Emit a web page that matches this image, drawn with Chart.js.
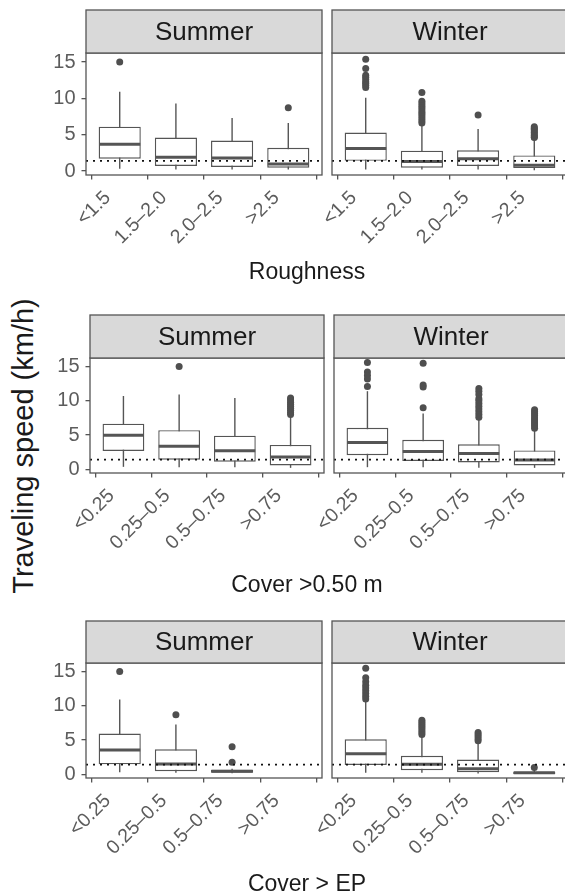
<!DOCTYPE html>
<html><head><meta charset="utf-8">
<script src="https://cdn.jsdelivr.net/npm/chart.js@4.4.0/dist/chart.umd.min.js"></script>
<style>
html,body{margin:0;padding:0;background:#fff;width:565px;height:896px;overflow:hidden;position:relative;font-family:"Liberation Sans",Arial,sans-serif;}
canvas{position:absolute;}
.t{position:absolute;font-size:23px;color:#1a1a1a;white-space:nowrap;transform:translate(-50%,-50%);}
#ytitle{position:absolute;left:23px;top:446px;font-size:29px;color:#1a1a1a;white-space:nowrap;transform:translate(-50%,-50%) rotate(-90deg);}
</style></head><body>
<div id="ytitle">Traveling speed (km/h)</div>
<script>
// ---------- categories / ticks ----------
const roughnessLabels = ['<1.5','1.5–2.0','2.0–2.5','>2.5'];
const coverLabels = ['<0.25','0.25–0.5','0.5–0.75','>0.75'];
const seasons = ['Summer','Winter'];
const yTickValues = [0,5,10,15];
const referenceSpeed = 1.4;

// ---------- Roughness ----------
const roughSummerMin = [0.3, 0.2, 0.2, 0.2];
const roughSummerQ1  = [1.7, 0.7, 0.55, 0.45];
const roughSummerMed = [3.7, 1.9, 1.8, 0.95];
const roughSummerQ3  = [6.1, 4.6, 4.2, 3.2];
const roughSummerMax = [10.9, 9.3, 7.3, 6.6];
const roughSummerOut = [[15.0], [], [], [8.7]];

const roughWinterMin = [0.2, 0.2, 0.2, 0.1];
const roughWinterQ1  = [1.4, 0.45, 0.7, 0.4];
const roughWinterMed = [3.1, 1.3, 1.7, 0.8];
const roughWinterQ3  = [5.3, 2.8, 2.85, 2.15];
const roughWinterMax = [10.1, 6.3, 5.8, 4.4];
const roughWinterOut = [
  [15.4, 14.1, 13.2, 12.9, 12.6, 12.3, 12.1, 11.8, 11.5],
  [10.8, 9.6, 9.3, 9.0, 8.7, 8.4, 8.1, 7.8, 7.5, 7.2, 6.9, 6.6],
  [7.7],
  [6.1, 5.9, 5.7, 5.5, 5.3, 5.1, 4.9, 4.7, 4.6]
];

// ---------- Cover > 0.50 m ----------
const coverSummerMin = [0.35, 0.3, 0.3, 0.2];
const coverSummerQ1  = [2.67, 1.4, 1.1, 0.55];
const coverSummerMed = [4.95, 3.35, 2.7, 1.8];
const coverSummerQ3  = [6.65, 5.7, 4.9, 3.55];
const coverSummerMax = [10.7, 10.9, 10.4, 7.8];
const coverSummerOut = [[], [15.0], [], [10.4, 10.1, 9.8, 9.5, 9.2, 8.9, 8.6, 8.3, 8.0]];

const coverWinterMin = [0.3, 0.3, 0.2, 0.2];
const coverWinterQ1  = [2.05, 1.2, 1.0, 0.55];
const coverWinterMed = [3.9, 2.6, 2.3, 1.35];
const coverWinterQ3  = [6.05, 4.3, 3.65, 2.75];
const coverWinterMax = [11.4, 8.15, 7.3, 5.8];
const coverWinterOut = [
  [15.6, 14.2, 13.7, 13.2, 12.1],
  [15.5, 12.3, 12.0, 9.0],
  [11.8, 11.4, 10.9, 10.3, 10.0, 9.6, 9.2, 8.8, 8.4, 8.0, 7.6],
  [8.7, 8.4, 8.1, 7.8, 7.5, 7.2, 6.9, 6.6, 6.3, 6.0]
];

// ---------- Cover > EP ----------
const epSummerMin = [0.3, 0.2, 0.15, null];
const epSummerQ1  = [1.45, 0.45, 0.2, null];
const epSummerMed = [3.55, 1.5, 0.45, null];
const epSummerQ3  = [5.95, 3.65, 0.65, null];
const epSummerMax = [10.9, 7.25, 0.8, null];
const epSummerOut = [[15.0], [8.7], [4.0, 1.75], []];

const epWinterMin = [0.2, 0.2, 0.1, 0.05];
const epWinterQ1  = [1.35, 0.6, 0.3, 0.05];
const epWinterMed = [3.0, 1.45, 0.8, 0.2];
const epWinterQ3  = [5.1, 2.7, 2.15, 0.35];
const epWinterMax = [10.7, 5.6, 4.8, 0.7];
const epWinterOut = [
  [15.5, 14.1, 13.5, 13.0, 12.6, 12.2, 11.8, 11.4, 11.0],
  [7.9, 7.6, 7.3, 7.0, 6.7, 6.4, 6.1, 5.8],
  [6.1, 5.8, 5.5, 5.2, 4.9],
  [1.0]
];

// ---------- layout & style ----------
const FONT = '"Liberation Sans", Arial, sans-serif';
const GREY_LINE = '#555555';
const TICK_COL = '#5c5c5c';
const POINT_COL = '#4f4f4f';
const X_AXIS_H = 100;
const RIGHT_PAD = 70;
Chart.defaults.font.family = FONT;

const rows = [
  {stripTop:10, panelTop:53, panelBottom:175, lx0:86, lx1:323, rx0:332, rx1:569, labels:roughnessLabels, title:'Roughness', titleY:271,
   panels:[
     {min:roughSummerMin,q1:roughSummerQ1,med:roughSummerMed,q3:roughSummerQ3,max:roughSummerMax,out:roughSummerOut},
     {min:roughWinterMin,q1:roughWinterQ1,med:roughWinterMed,q3:roughWinterQ3,max:roughWinterMax,out:roughWinterOut}]},
  {stripTop:315, panelTop:358, panelBottom:473, lx0:90, lx1:325, rx0:334, rx1:569, labels:coverLabels, title:'Cover >0.50 m', titleY:584,
   panels:[
     {min:coverSummerMin,q1:coverSummerQ1,med:coverSummerMed,q3:coverSummerQ3,max:coverSummerMax,out:coverSummerOut},
     {min:coverWinterMin,q1:coverWinterQ1,med:coverWinterMed,q3:coverWinterQ3,max:coverWinterMax,out:coverWinterOut}]},
  {stripTop:621, panelTop:663, panelBottom:778, lx0:86, lx1:323, rx0:332, rx1:569, labels:coverLabels, title:'Cover > EP', titleY:883,
   panels:[
     {min:epSummerMin,q1:epSummerQ1,med:epSummerMed,q3:epSummerQ3,max:epSummerMax,out:epSummerOut},
     {min:epWinterMin,q1:epWinterQ1,med:epWinterMed,q3:epWinterQ3,max:epWinterMax,out:epWinterOut}]}
];

const decoPlugin = {
  id: 'deco',
  afterDatasetDraw(chart, args, opts) {
    if (args.index !== opts.boxIndex) return;
    const {ctx} = chart;
    const y = chart.scales.y;
    const meta = args.meta;
    ctx.save();
    ctx.strokeStyle = GREY_LINE;
    ctx.lineWidth = 3;
    opts.med.forEach((m, i) => {
      if (m == null) return;
      const el = meta.data[i];
      if (!el) return;
      const half = el.width / 2;
      const py = y.getPixelForValue(m);
      ctx.beginPath();
      ctx.moveTo(el.x - half + 0.5, py);
      ctx.lineTo(el.x + half - 0.5, py);
      ctx.stroke();
    });
    ctx.restore();
  },
  afterDraw(chart, args, opts) {
    const {ctx, chartArea:{left, top, right, bottom}} = chart;
    ctx.save();
    ctx.lineWidth = 1.3;
    ctx.strokeStyle = GREY_LINE;
    ctx.strokeRect(left, top, right - left, bottom - top);
    ctx.fillStyle = '#d9d9d9';
    ctx.fillRect(left, top - opts.stripH, right - left, opts.stripH);
    ctx.strokeRect(left, top - opts.stripH, right - left, opts.stripH);
    ctx.fillStyle = '#1a1a1a';
    ctx.font = '26px ' + FONT;
    ctx.textAlign = 'center';
    ctx.textBaseline = 'middle';
    ctx.fillText(opts.text, (left + right) / 2, top - opts.stripH / 2 + 1);
    ctx.restore();
  }
};

function makePanel(row, side) {
  const isLeft = side === 0;
  const p = row.panels[side];
  const cv = document.createElement('canvas');
  const top = row.stripTop - 2;
  const x0 = isLeft ? 0 : row.rx0 - RIGHT_PAD;
  const w = isLeft ? row.lx1 + 3 : (row.rx1 - row.rx0) + RIGHT_PAD + 3;
  const h = (row.panelBottom - top) + X_AXIS_H;
  cv.width = w; cv.height = h;
  cv.style.left = x0 + 'px'; cv.style.top = top + 'px';
  cv.style.width = w + 'px'; cv.style.height = h + 'px';
  document.body.appendChild(cv);

  const idx = row.labels.map((_, i) => i + 1);
  const boxData = idx.map((x, i) => ({x, y: p.q1[i] == null ? null : [p.q1[i], p.q3[i]]}));
  const whiskerData = idx.map((x, i) => ({x, y: p.min[i] == null ? null : [p.min[i], p.max[i]]}));
  const outData = [];
  p.out.forEach((arr, i) => arr.forEach(v => outData.push({x: i + 1, y: v})));

  new Chart(cv, {
    type: 'bar',
    data: {
      datasets: [
        {type:'line', data:[{x:0.4, y:referenceSpeed},{x:4.6, y:referenceSpeed}], borderColor:'#111', borderWidth:1.7,
         borderDash:[2,5], pointRadius:0, order:0},
        {type:'scatter', data:outData, pointRadius:3.5, pointBackgroundColor:POINT_COL, pointBorderWidth:0, order:1},
        {type:'bar', data:boxData, grouped:false, categoryPercentage:1, barPercentage:0.75,
         backgroundColor:'#ffffff', borderColor:GREY_LINE, borderWidth:1.4, borderSkipped:false, order:2},
        {type:'bar', data:whiskerData, grouped:false, maxBarThickness:1.4, backgroundColor:GREY_LINE, borderWidth:0, order:3}
      ]
    },
    options: {
      responsive:false, animation:false, devicePixelRatio:1,
      layout:{padding:{top:row.panelTop - top, right:3, left:isLeft ? 0 : RIGHT_PAD, bottom:0}},
      plugins:{legend:{display:false}, tooltip:{enabled:false},
        deco:{boxIndex:2, med:p.med, stripH:row.panelTop - row.stripTop, text:seasons[side]}},
      scales:{
        x:{type:'linear', min:0.4, max:4.6, offset:false,
           afterBuildTicks:s => { s.ticks = idx.map(v => ({value:v})); },
           afterFit:s => { s.height = X_AXIS_H; s.paddingLeft = 0; s.paddingRight = 0; },
           ticks:{autoSkip:false, minRotation:45, maxRotation:45, color:TICK_COL, font:{size:19.5}, padding:7,
                  labelOffset:-12, callback:v => row.labels[Math.round(v) - 1]},
           grid:{display:true, drawOnChartArea:false, drawTicks:true, tickLength:4.5, color:GREY_LINE, lineWidth:1.3},
           border:{display:false}},
        y:{type:'linear', min:-0.55, max:16.25, display:isLeft,
           afterBuildTicks:s => { s.ticks = yTickValues.map(v => ({value:v})); },
           afterFit:s => { if (isLeft) s.width = row.lx0; s.paddingTop = 0; s.paddingBottom = 0; },
           ticks:{color:TICK_COL, font:{size:20}, padding:6},
           grid:{display:true, drawOnChartArea:false, drawTicks:true, tickLength:4.5, color:GREY_LINE, lineWidth:1.3},
           border:{display:false}}
      }
    },
    plugins:[decoPlugin]
  });
}

rows.forEach(row => {
  makePanel(row, 0);
  makePanel(row, 1);
  const t = document.createElement('div');
  t.className = 't';
  t.textContent = row.title;
  t.style.left = '307px';
  t.style.top = row.titleY + 'px';
  document.body.appendChild(t);
});
</script>
</body></html>
